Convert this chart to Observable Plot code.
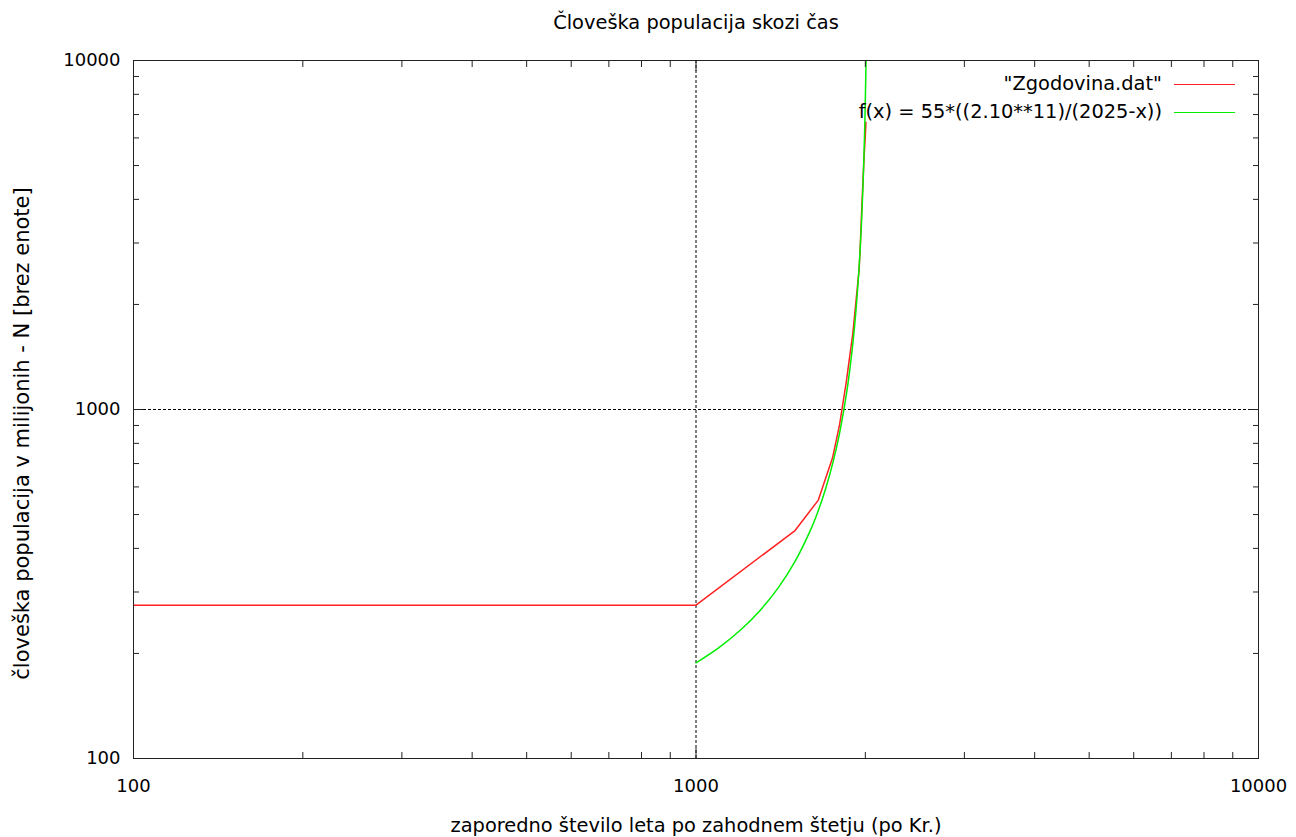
<!DOCTYPE html>
<html>
<head>
<meta charset="utf-8">
<script src="https://cdn.jsdelivr.net/npm/d3@7"></script>
<script src="https://cdn.jsdelivr.net/npm/@observablehq/plot@0.6"></script>
<style>
  html, body { margin: 0; padding: 0; background: #fff; }
  #wrap { position: relative; width: 1296px; height: 837px; font-family: "DejaVu Sans", sans-serif; }
  .lg-text { position: absolute; font-size: 19.4px; color: #000; white-space: nowrap; line-height: 22px; text-align: right; }
  .lg-line { position: absolute; height: 0; width: 61px; }
</style>
</head>
<body>
<div id="wrap"></div>
<script>
// ---- data ----
const titleText = "Človeška populacija skozi čas";
const xLabelText = "zaporedno število leta po zahodnem štetju (po Kr.)";
const yLabelText = "človeška populacija v milijonih - N [brez enote]";
const seriesNames = ["\"Zgodovina.dat\"", "f(x) = 55*((2.10**11)/(2025-x))"];
const seriesColors = ["#ff2020", "#00ee00"];

// red series: "Zgodovina.dat" (year, population in millions)
const histYears = [100, 1000, 1500, 1650, 1750, 1800, 1850, 1900, 1950, 1960, 1970, 1980, 1990, 2000, 2005];
const histPop   = [275, 275, 450, 550, 730, 905, 1200, 1650, 2520, 3000, 3700, 4450, 5300, 6100, 6650];

// green series: f(x) values
const fitYears = [1000, 1100, 1200, 1300, 1400, 1500, 1600, 1650, 1700, 1750, 1800, 1850, 1875, 1900, 1925, 1950, 1960, 1970, 1980, 1990, 1995, 2000, 2003, 2005, 2006];
const fitPop   = [188, 208.3, 233.5, 265.7, 308.2, 367, 453.3, 513.7, 592.8, 700.6, 856.2, 1100.9, 1284.4, 1541.2, 1926.5, 2568.7, 2963.9, 3502.8, 4281.2, 5504.4, 6421.8, 7706.1, 8756.9, 9632.6, 10139.6];

// ticks
const majorTicks = [100, 1000, 10000];
const minorTicks = [200, 300, 400, 500, 600, 700, 800, 900, 2000, 3000, 4000, 5000, 6000, 7000, 8000, 9000];
const gridAt = [1000];

const hist = histYears.map((x, i) => ({x, y: histPop[i]}));
const fit = fitYears.map((x, i) => ({x, y: fitPop[i]}));

const noText = () => "";
const chart = Plot.plot({
  width: 1296,
  height: 837,
  marginTop: 60,
  marginLeft: 133,
  marginRight: 38,
  marginBottom: 79,
  style: {fontFamily: "DejaVu Sans, sans-serif", fontSize: "18px", color: "#000", background: "#fff"},
  x: {type: "log", domain: [100, 10000]},
  y: {type: "log", domain: [100, 10000]},
  marks: [
    Plot.ruleX(gridAt, {stroke: "#000", strokeWidth: 1, strokeDasharray: "3,2"}),
    Plot.ruleY(gridAt, {stroke: "#000", strokeWidth: 1, strokeDasharray: "3,2"}),
    Plot.line(hist, {x: "x", y: "y", stroke: seriesColors[0], strokeWidth: 1.5, clip: true}),
    Plot.line(fit, {x: "x", y: "y", stroke: seriesColors[1], strokeWidth: 1.5, curve: "catmull-rom", clip: true}),
    Plot.frame({stroke: "#222"}),
    Plot.axisX(majorTicks, {anchor: "bottom", tickSize: -10, tickPadding: 31, tickFormat: d => String(d), label: null, stroke: "#222"}),
    Plot.axisX(minorTicks, {anchor: "bottom", tickSize: -6, tickFormat: noText, label: null, stroke: "#222"}),
    Plot.axisX(majorTicks, {anchor: "top", tickSize: -10, tickFormat: noText, label: null, stroke: "#222"}),
    Plot.axisX(minorTicks, {anchor: "top", tickSize: -6, tickFormat: noText, label: null, stroke: "#222"}),
    Plot.axisY(majorTicks, {anchor: "left", tickSize: -10, tickPadding: 23, tickFormat: d => String(d), label: null, stroke: "#222"}),
    Plot.axisY(minorTicks, {anchor: "left", tickSize: -6, tickFormat: noText, label: null, stroke: "#222"}),
    Plot.axisY(majorTicks, {anchor: "right", tickSize: -10, tickFormat: noText, label: null, stroke: "#222"}),
    Plot.axisY(minorTicks, {anchor: "right", tickSize: -6, tickFormat: noText, label: null, stroke: "#222"}),
    Plot.text([titleText], {frameAnchor: "top", textAnchor: "middle", lineAnchor: "middle", dy: -38, fontSize: 19.4, fill: "#000"}),
    Plot.text([xLabelText], {frameAnchor: "bottom", textAnchor: "middle", lineAnchor: "middle", dy: 67, fontSize: 19.4, fill: "#000"}),
    Plot.text([yLabelText], {frameAnchor: "left", textAnchor: "middle", lineAnchor: "middle", dx: -111, dy: 24, rotate: -90, fontSize: 21, fill: "#000"})
  ]
});
const wrap = document.getElementById("wrap");
wrap.appendChild(chart);

// legend (HTML overlay, top-right inside the plot area)
const legendRowsY = [84, 112];
seriesNames.forEach((name, i) => {
  const t = document.createElement("div");
  t.className = "lg-text";
  t.textContent = name;
  t.style.right = (1296 - 1162) + "px";
  t.style.top = (legendRowsY[i] - 11) + "px";
  wrap.appendChild(t);
  const l = document.createElement("div");
  l.className = "lg-line";
  l.style.left = "1174px";
  l.style.top = legendRowsY[i] + "px";
  l.style.borderTop = "1.5px solid " + seriesColors[i];
  wrap.appendChild(l);
});
</script>
</body>
</html>
